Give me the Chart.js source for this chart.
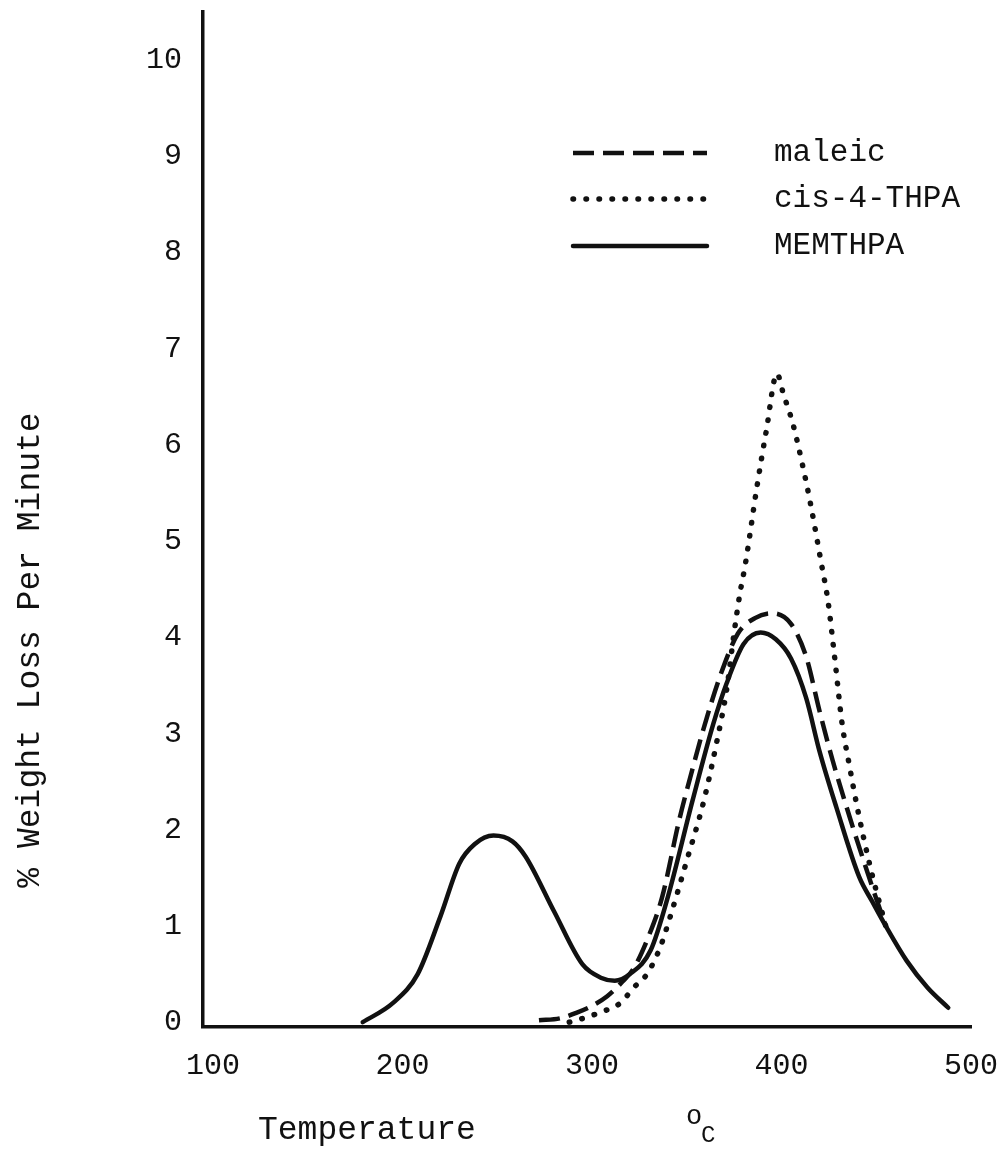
<!DOCTYPE html>
<html>
<head>
<meta charset="utf-8">
<title>% Weight Loss Per Minute</title>
<script src="https://cdn.jsdelivr.net/npm/chart.js@4.4.1/dist/chart.umd.min.js"></script>
<style>
    html, body { margin: 0; padding: 0; background: #ffffff; }
    #wrap { width: 1005px; height: 1153px; position: relative; }
</style>
</head>
<body>
<div id="wrap"><canvas id="dtgChart"></canvas></div>
<script>
// Tick labels
const xTicks = [100, 200, 300, 400, 500];
const yTicks = [0, 1, 2, 3, 4, 5, 6, 7, 8, 9, 10];

// MEMTHPA (solid)
const memT = [179, 195, 208, 220, 230, 238, 248, 258, 265, 280, 295, 305, 312, 320, 331, 340, 353, 364, 371, 380, 389, 397, 405, 413, 420, 429, 441, 448, 455, 466, 477, 488];
const memV = [0, 0.2, 0.5, 1.1, 1.65, 1.85, 1.94, 1.88, 1.72, 1.15, 0.6, 0.46, 0.43, 0.5, 0.75, 1.3, 2.3, 3.1, 3.52, 3.93, 4.05, 3.98, 3.78, 3.37, 2.82, 2.23, 1.51, 1.25, 1.0, 0.64, 0.36, 0.15];

// maleic (dashed)
const malT = [272, 283, 292, 300, 308, 316, 322, 330, 337, 346, 353, 359, 368, 377, 386, 395, 405, 413, 420, 427, 436, 441, 448, 455];
const malV = [0.02, 0.04, 0.1, 0.17, 0.27, 0.42, 0.56, 0.9, 1.3, 2.1, 2.63, 3.06, 3.62, 4.04, 4.2, 4.25, 4.14, 3.8, 3.24, 2.72, 2.13, 1.82, 1.4, 1.0];

// cis-4-THPA (dotted)
const cisT = [288, 297, 304, 315, 322, 329, 336, 341, 350, 359, 366, 371, 375, 378, 381, 387, 392, 397.6, 401, 406, 411, 415, 421, 424.5, 428, 432, 436, 440, 447, 455];
const cisV = [0, 0.05, 0.1, 0.2, 0.36, 0.5, 0.78, 1.08, 1.68, 2.3, 2.93, 3.45, 4.05, 4.45, 4.77, 5.56, 6.15, 6.74, 6.53, 6.22, 5.8, 5.42, 4.77, 4.38, 3.8, 3.1, 2.65, 2.23, 1.6, 1.0];

const seriesNames = ['maleic', 'cis-4-THPA', 'MEMTHPA'];

const FONT = '"Liberation Mono", "DejaVu Sans Mono", monospace';
const INK = '#111111';

// Build {x, y} points from the arrays
function toPoints(xs, ys) {
    return xs.map((x, i) => ({ x: x, y: ys[i] }));
}

// Line styles, shared by datasets and legend
const styles = {
    'maleic': { dash: [21, 9], width: 4.5, cap: 'butt' },
    'cis-4-THPA': { dash: [0.5, 12.5], width: 5.5, cap: 'round' },
    'MEMTHPA': { dash: [], width: 4.5, cap: 'round' }
};

function makeDataset(name, xs, ys) {
    const s = styles[name];
    return {
        label: name,
        data: toPoints(xs, ys),
        borderColor: INK,
        borderWidth: s.width,
        borderDash: s.dash,
        borderCapStyle: s.cap,
        borderJoinStyle: 'round',
        pointRadius: 0,
        fill: false,
        cubicInterpolationMode: 'monotone'
    };
}

// Legend in the upper right, hand drawn
const legendPlugin = {
    id: 'sketchLegend',
    afterDraw(chart) {
        const ctx = chart.ctx;
        const rows = [153, 199, 246];
        ctx.save();
        seriesNames.forEach((name, i) => {
            const s = styles[name];
            ctx.beginPath();
            ctx.setLineDash(s.dash);
            ctx.lineCap = s.cap;
            ctx.lineWidth = s.width;
            ctx.strokeStyle = INK;
            ctx.moveTo(573, rows[i]);
            ctx.lineTo(707, rows[i]);
            ctx.stroke();
            ctx.setLineDash([]);
            ctx.fillStyle = INK;
            ctx.font = '31px ' + FONT;
            ctx.textAlign = 'left';
            ctx.textBaseline = 'middle';
            ctx.fillText(name, 774, rows[i]);
        });
        ctx.restore();
    }
};

// Axis titles
const titlePlugin = {
    id: 'axisTitles',
    afterDraw(chart) {
        const ctx = chart.ctx;
        ctx.save();
        ctx.fillStyle = INK;
        ctx.textBaseline = 'middle';

        ctx.font = '33px ' + FONT;
        ctx.textAlign = 'left';
        ctx.fillText('Temperature', 258, 1130);

        ctx.font = '27px ' + FONT;
        ctx.fillText('o', 686, 1117);
        ctx.font = '24px ' + FONT;
        ctx.fillText('C', 701, 1136);

        ctx.translate(30, 650);
        ctx.rotate(-Math.PI / 2);
        ctx.font = '33px ' + FONT;
        ctx.textAlign = 'center';
        ctx.fillText('% Weight Loss Per Minute', 0, 0);
        ctx.restore();
    }
};

function noPadding(scale) {
    scale.paddingTop = 0;
    scale.paddingBottom = 0;
    scale.paddingLeft = 0;
    scale.paddingRight = 0;
}

const ctx = document.getElementById('dtgChart').getContext('2d');
const chart = new Chart(ctx, {
    type: 'line',
    data: {
        datasets: [
            makeDataset('maleic', malT, malV),
            makeDataset('cis-4-THPA', cisT, cisV),
            makeDataset('MEMTHPA', memT, memV)
        ]
    },
    options: {
        responsive: true,
        maintainAspectRatio: false,
        animation: false,
        layout: {
            padding: { top: 12, right: 34, left: 0, bottom: 0 }
        },
        plugins: {
            legend: { display: false },
            tooltip: { enabled: false }
        },
        scales: {
            x: {
                type: 'linear',
                min: 94.7,
                max: 500,
                grid: { display: false, drawTicks: false },
                border: { display: true, color: INK, width: 3.5 },
                afterBuildTicks: (scale) => {
                    scale.ticks = xTicks.map(v => ({ value: v }));
                },
                afterFit: (scale) => {
                    scale.height = 126;
                    noPadding(scale);
                },
                ticks: {
                    color: INK,
                    padding: 21,
                    maxRotation: 0,
                    font: { family: FONT, size: 30 },
                    callback: (v) => String(v)
                }
            },
            y: {
                type: 'linear',
                min: -0.05,
                max: 10.5,
                grid: { display: false, drawTicks: false },
                border: { display: true, color: INK, width: 3.5 },
                afterBuildTicks: (scale) => {
                    scale.ticks = yTicks.map(v => ({ value: v }));
                },
                afterFit: (scale) => {
                    scale.width = 203;
                    noPadding(scale);
                },
                ticks: {
                    color: INK,
                    padding: 21,
                    font: { family: FONT, size: 30 },
                    callback: (v) => String(v)
                }
            }
        }
    },
    plugins: [legendPlugin, titlePlugin]
});
</script>
</body>
</html>
